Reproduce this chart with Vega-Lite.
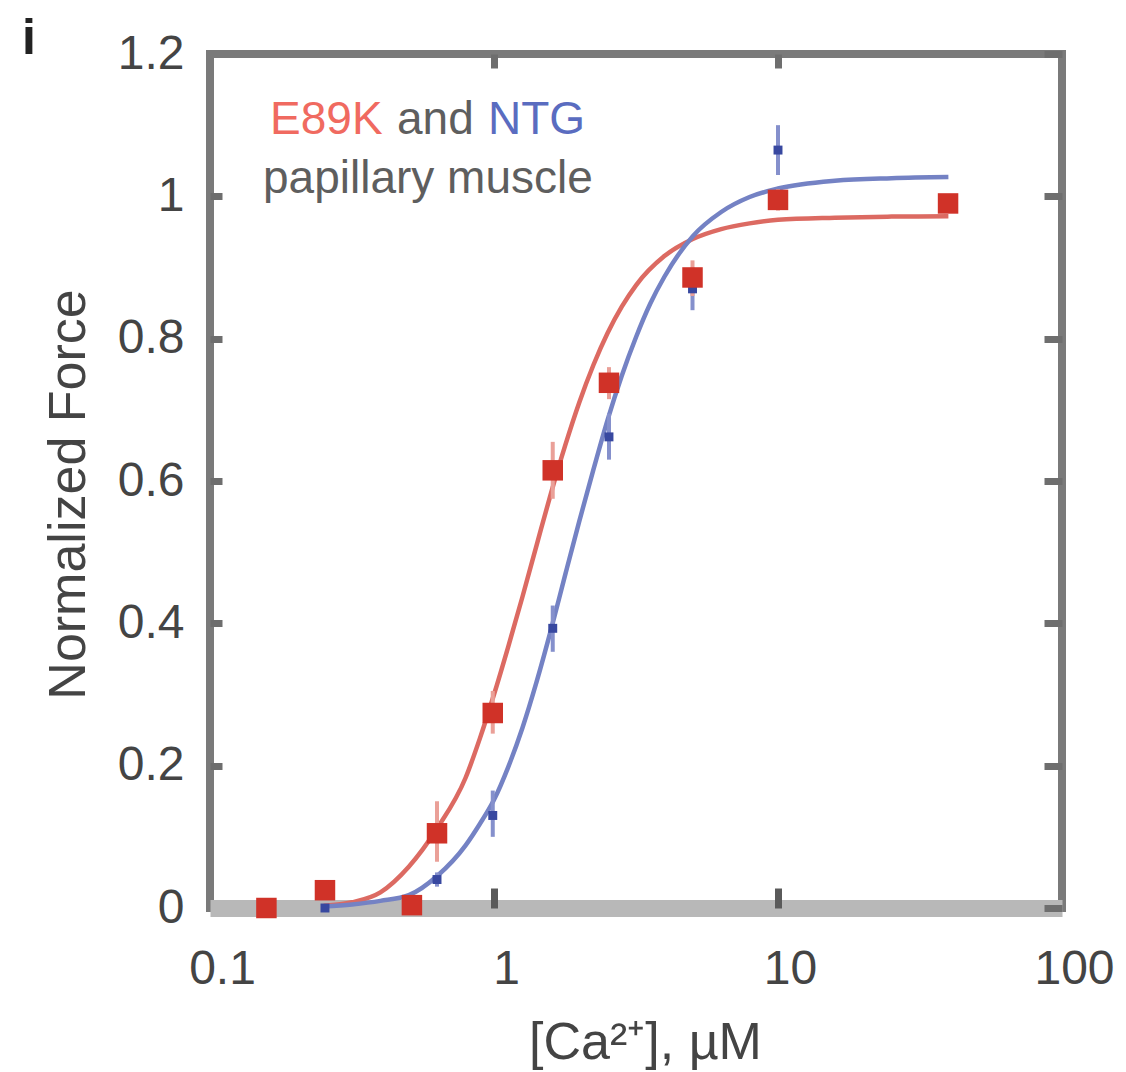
{
  "$schema": "https://vega.github.io/schema/vega-lite/v6.json",
  "width": 852,
  "height": 854,
  "autosize": "none",
  "padding": {"left": 210, "top": 54, "right": 64, "bottom": 164},
  "background": "white",
  "config": {
    "view": {"stroke": "#7a7a7a", "strokeWidth": 8},
    "axis": {"labelFont": "Liberation Sans", "titleFont": "Liberation Sans", "grid": false, "labelColor": "#444", "titleColor": "#444", "titleFontWeight": "normal"}
  },
  "datasets": {
    "curves": [
      {"series": "E89K", "x": 0.2512, "y": 0.003},
      {"series": "E89K", "x": 0.3162, "y": 0.008},
      {"series": "E89K", "x": 0.3981, "y": 0.022},
      {"series": "E89K", "x": 0.5012, "y": 0.058},
      {"series": "E89K", "x": 0.631, "y": 0.112},
      {"series": "E89K", "x": 0.7943, "y": 0.183},
      {"series": "E89K", "x": 0.8913, "y": 0.238},
      {"series": "E89K", "x": 1.0, "y": 0.300},
      {"series": "E89K", "x": 1.122, "y": 0.367},
      {"series": "E89K", "x": 1.259, "y": 0.437},
      {"series": "E89K", "x": 1.413, "y": 0.510},
      {"series": "E89K", "x": 1.585, "y": 0.582},
      {"series": "E89K", "x": 1.778, "y": 0.649},
      {"series": "E89K", "x": 1.995, "y": 0.710},
      {"series": "E89K", "x": 2.239, "y": 0.763},
      {"series": "E89K", "x": 2.512, "y": 0.808},
      {"series": "E89K", "x": 2.818, "y": 0.845},
      {"series": "E89K", "x": 3.162, "y": 0.875},
      {"series": "E89K", "x": 3.981, "y": 0.916},
      {"series": "E89K", "x": 5.012, "y": 0.940},
      {"series": "E89K", "x": 6.31, "y": 0.954},
      {"series": "E89K", "x": 7.943, "y": 0.962},
      {"series": "E89K", "x": 10.0, "y": 0.967},
      {"series": "E89K", "x": 15.85, "y": 0.970},
      {"series": "E89K", "x": 25.12, "y": 0.9715},
      {"series": "E89K", "x": 39.81, "y": 0.972},
      {"series": "NTG", "x": 0.2512, "y": 0.002},
      {"series": "NTG", "x": 0.3162, "y": 0.005},
      {"series": "NTG", "x": 0.3981, "y": 0.010},
      {"series": "NTG", "x": 0.5012, "y": 0.018},
      {"series": "NTG", "x": 0.631, "y": 0.045},
      {"series": "NTG", "x": 0.7943, "y": 0.088},
      {"series": "NTG", "x": 0.8913, "y": 0.118},
      {"series": "NTG", "x": 1.0, "y": 0.152},
      {"series": "NTG", "x": 1.122, "y": 0.198},
      {"series": "NTG", "x": 1.259, "y": 0.253},
      {"series": "NTG", "x": 1.413, "y": 0.318},
      {"series": "NTG", "x": 1.585, "y": 0.390},
      {"series": "NTG", "x": 1.778, "y": 0.467},
      {"series": "NTG", "x": 1.995, "y": 0.543},
      {"series": "NTG", "x": 2.239, "y": 0.616},
      {"series": "NTG", "x": 2.512, "y": 0.686},
      {"series": "NTG", "x": 2.818, "y": 0.748},
      {"series": "NTG", "x": 3.162, "y": 0.802},
      {"series": "NTG", "x": 3.548, "y": 0.849},
      {"series": "NTG", "x": 3.981, "y": 0.887},
      {"series": "NTG", "x": 5.012, "y": 0.944},
      {"series": "NTG", "x": 6.31, "y": 0.978},
      {"series": "NTG", "x": 7.943, "y": 0.999},
      {"series": "NTG", "x": 10.0, "y": 1.011},
      {"series": "NTG", "x": 15.85, "y": 1.022},
      {"series": "NTG", "x": 25.12, "y": 1.0255},
      {"series": "NTG", "x": 39.81, "y": 1.027}
    ],
    "points": [
      {"series": "E89K", "x": 0.158, "y": 0.0},
      {"series": "E89K", "x": 0.254, "y": 0.025},
      {"series": "E89K", "x": 0.514, "y": 0.004},
      {"series": "E89K", "x": 0.63, "y": 0.105},
      {"series": "E89K", "x": 0.99, "y": 0.274},
      {"series": "E89K", "x": 1.61, "y": 0.615},
      {"series": "E89K", "x": 2.54, "y": 0.738},
      {"series": "E89K", "x": 5.0, "y": 0.886},
      {"series": "E89K", "x": 10.0, "y": 0.995},
      {"series": "E89K", "x": 39.7, "y": 0.99},
      {"series": "NTG", "x": 0.254, "y": 0.0},
      {"series": "NTG", "x": 0.514, "y": 0.005},
      {"series": "NTG", "x": 0.63, "y": 0.04},
      {"series": "NTG", "x": 0.99, "y": 0.13},
      {"series": "NTG", "x": 1.61, "y": 0.393},
      {"series": "NTG", "x": 2.54, "y": 0.662},
      {"series": "NTG", "x": 5.0, "y": 0.87},
      {"series": "NTG", "x": 10.0, "y": 1.065}
    ],
    "errors": [
      {"series": "E89K", "x": 0.63, "lo": 0.065, "hi": 0.15},
      {"series": "E89K", "x": 0.99, "lo": 0.245, "hi": 0.305},
      {"series": "E89K", "x": 1.61, "lo": 0.575, "hi": 0.655},
      {"series": "E89K", "x": 2.54, "lo": 0.715, "hi": 0.76},
      {"series": "E89K", "x": 5.0, "lo": 0.86, "hi": 0.91},
      {"series": "E89K", "x": 10.0, "lo": 0.98, "hi": 1.01},
      {"series": "NTG", "x": 0.63, "lo": 0.03, "hi": 0.05},
      {"series": "NTG", "x": 0.99, "lo": 0.10, "hi": 0.165},
      {"series": "NTG", "x": 1.61, "lo": 0.36, "hi": 0.425},
      {"series": "NTG", "x": 2.54, "lo": 0.63, "hi": 0.695},
      {"series": "NTG", "x": 5.0, "lo": 0.84, "hi": 0.90},
      {"series": "NTG", "x": 10.0, "lo": 1.03, "hi": 1.10}
    ],
    "legend": [
      {"role": "E89K", "label": "E89K", "x": 0.1627, "y": 1.0875},
      {"role": "gray", "label": "and", "x": 0.4556, "y": 1.0875},
      {"role": "NTG", "label": "NTG", "x": 0.9526, "y": 1.0875},
      {"role": "gray", "label": "papillary muscle", "x": 0.1537, "y": 1.0046}
    ],
    "panel": [
      {"label": "i", "x": 0.0218, "y": 1.2}
    ]
  },
  "layer": [
    {
      "data": {"name": "curves"},
      "mark": {"type": "line", "strokeWidth": 4.5, "interpolate": "monotone"},
      "encoding": {
        "x": {"field": "x", "type": "quantitative", "scale": {"type": "log", "domain": [0.1, 100], "nice": false},
          "axis": {"orient": "bottom", "values": [0.1, 1, 10, 100], "format": "~g", "ticks": false, "domain": true, "domainColor": "#b8b8b8", "domainWidth": 17, "labelPadding": 37, "labelOffset": 12, "labelFlush": false, "labelOverlap": false, "labelFontSize": 48, "title": "[Ca²⁺], µM", "titleFontSize": 52, "titleX": 435, "titleY": 150, "titleBaseline": "alphabetic", "titleAlign": "center"}},
        "y": {"field": "y", "type": "quantitative", "scale": {"domain": [0, 1.2], "nice": false, "zero": false},
          "axis": {"orient": "left", "values": [0, 0.2, 0.4, 0.6, 0.8, 1, 1.2], "format": "~g", "ticks": false, "domain": false, "labelPadding": 26, "labelFlush": false, "labelOverlap": false, "labelFontSize": 48, "title": "Normalized Force", "titleFontSize": 52, "titleX": -142, "titleY": 440, "titleAngle": 270, "titleBaseline": "middle", "titleAlign": "center"}},
        "color": {"field": "series", "type": "nominal", "scale": {"domain": ["E89K", "NTG"], "range": ["#dc6a62", "#7482c4"]}, "legend": null}
      }
    },
    {
      "data": {"name": "errors"},
      "transform": [{"filter": "datum.series == 'NTG'"}],
      "mark": {"type": "rule", "color": "#8590cc", "strokeWidth": 4},
      "encoding": {
        "x": {"field": "x", "type": "quantitative", "scale": {"type": "log", "domain": [0.1, 100], "nice": false},
          "axis": {"orient": "top", "values": [1, 10], "labels": false, "domain": false, "ticks": true, "tickSize": -14, "tickWidth": 7, "tickColor": "#6e6e6e", "title": null, "zindex": 1}},
        "y": {"field": "lo", "type": "quantitative", "scale": {"domain": [0, 1.2], "nice": false, "zero": false},
          "axis": {"orient": "right", "values": [0, 0.2, 0.4, 0.6, 0.8, 1, 1.2], "labels": false, "domain": false, "ticks": true, "tickSize": -18, "tickWidth": 7, "tickColor": "#6e6e6e", "title": null, "zindex": 1}},
        "y2": {"field": "hi"}
      }
    },
    {
      "data": {"name": "errors"},
      "transform": [{"filter": "datum.series == 'E89K'"}],
      "mark": {"type": "rule", "color": "#eaa098", "strokeWidth": 4},
      "encoding": {
        "x": {"field": "x", "type": "quantitative", "scale": {"type": "log", "domain": [0.1, 100], "nice": false}, "axis": null},
        "y": {"field": "lo", "type": "quantitative", "scale": {"domain": [0, 1.2], "nice": false, "zero": false}, "axis": null},
        "y2": {"field": "hi"}
      }
    },
    {
      "data": {"name": "points"},
      "transform": [{"filter": "datum.series == 'NTG'"}],
      "mark": {"type": "square", "color": "#3848a0", "opacity": 1, "size": 80, "filled": true},
      "encoding": {
        "x": {"field": "x", "type": "quantitative", "scale": {"type": "log", "domain": [0.1, 100], "nice": false},
          "axis": {"orient": "bottom", "values": [1, 10], "labels": false, "domain": false, "ticks": true, "tickSize": -20, "tickWidth": 7, "tickColor": "#5a5a5a", "title": null, "zindex": 1}},
        "y": {"field": "y", "type": "quantitative", "scale": {"domain": [0, 1.2], "nice": false, "zero": false},
          "axis": {"orient": "left", "values": [0.2, 0.4, 0.6, 0.8, 1], "labels": false, "domain": false, "ticks": true, "tickSize": -12, "tickWidth": 7, "tickColor": "#6e6e6e", "title": null, "zindex": 1}}
      }
    },
    {
      "data": {"name": "points"},
      "transform": [{"filter": "datum.series == 'E89K'"}],
      "mark": {"type": "square", "color": "#d03228", "opacity": 1, "size": 420, "filled": true},
      "encoding": {
        "x": {"field": "x", "type": "quantitative", "scale": {"type": "log", "domain": [0.1, 100], "nice": false}, "axis": null},
        "y": {"field": "y", "type": "quantitative", "scale": {"domain": [0, 1.2], "nice": false, "zero": false}, "axis": null}
      }
    },
    {
      "data": {"name": "legend"},
      "transform": [{"filter": "datum.role == 'E89K'"}],
      "mark": {"type": "text", "align": "left", "baseline": "alphabetic", "fontSize": 46, "font": "Liberation Sans", "color": "#f06a60"},
      "encoding": {
        "x": {"field": "x", "type": "quantitative", "scale": {"type": "log", "domain": [0.1, 100], "nice": false}, "axis": null},
        "y": {"field": "y", "type": "quantitative", "scale": {"domain": [0, 1.2], "nice": false, "zero": false}, "axis": null},
        "text": {"field": "label"}
      }
    },
    {
      "data": {"name": "legend"},
      "transform": [{"filter": "datum.role == 'NTG'"}],
      "mark": {"type": "text", "align": "left", "baseline": "alphabetic", "fontSize": 46, "font": "Liberation Sans", "color": "#5a6cc0"},
      "encoding": {
        "x": {"field": "x", "type": "quantitative", "scale": {"type": "log", "domain": [0.1, 100], "nice": false}, "axis": null},
        "y": {"field": "y", "type": "quantitative", "scale": {"domain": [0, 1.2], "nice": false, "zero": false}, "axis": null},
        "text": {"field": "label"}
      }
    },
    {
      "data": {"name": "legend"},
      "transform": [{"filter": "datum.role == 'gray'"}],
      "mark": {"type": "text", "align": "left", "baseline": "alphabetic", "fontSize": 46, "font": "Liberation Sans", "color": "#5e5e5e"},
      "encoding": {
        "x": {"field": "x", "type": "quantitative", "scale": {"type": "log", "domain": [0.1, 100], "nice": false}, "axis": null},
        "y": {"field": "y", "type": "quantitative", "scale": {"domain": [0, 1.2], "nice": false, "zero": false}, "axis": null},
        "text": {"field": "label"}
      }
    },
    {
      "data": {"name": "panel"},
      "mark": {"type": "text", "align": "left", "baseline": "alphabetic", "fontSize": 50, "fontWeight": "bold", "font": "Liberation Sans", "color": "#222"},
      "encoding": {
        "x": {"field": "x", "type": "quantitative", "scale": {"type": "log", "domain": [0.1, 100], "nice": false}, "axis": null},
        "y": {"field": "y", "type": "quantitative", "scale": {"domain": [0, 1.2], "nice": false, "zero": false}, "axis": null},
        "text": {"field": "label"}
      }
    }
  ],
  "resolve": {"axis": {"x": "independent", "y": "independent"}}
}
